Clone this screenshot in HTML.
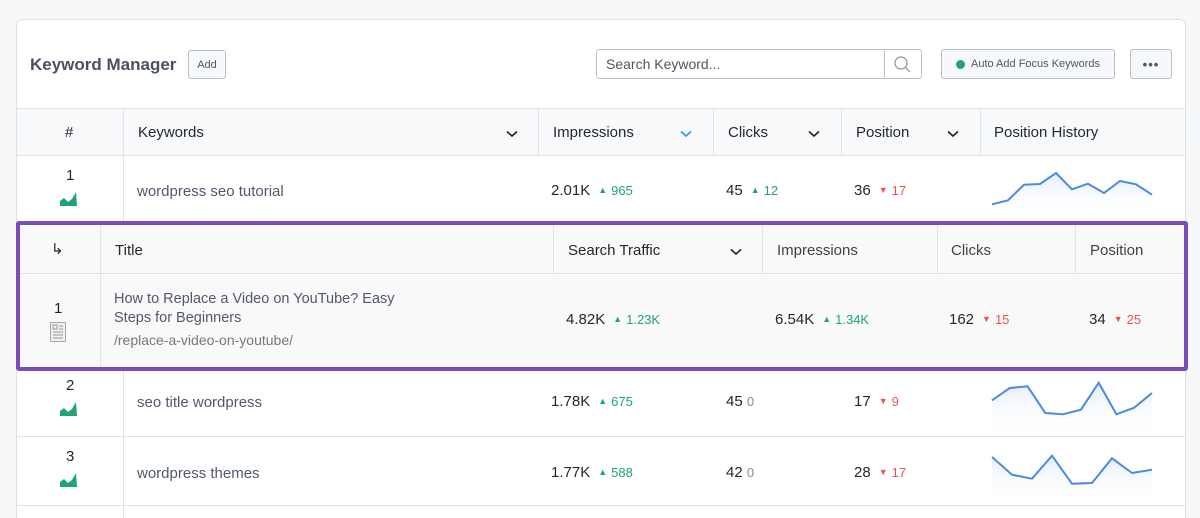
<!DOCTYPE html>
<html><head><meta charset="utf-8">
<style>
*{box-sizing:border-box;margin:0;padding:0}
html,body{width:1200px;height:518px;overflow:hidden}
body{background:#f6f7f9;font-family:"Liberation Sans",sans-serif;position:relative;color:#23282d}
.abs{position:absolute}
.card{left:16px;top:19px;width:1170px;height:520px;background:#fff;border:1px solid #dde0e5;border-radius:6px}
.btn{border:1px solid #b6bfcc;border-radius:3px;background:#f7f8fa;color:#50575e;font-size:11px;display:flex;align-items:center;justify-content:center}
.hd{background:#f8f9fa;border-bottom:1px solid #dfe2e6;border-top:1px solid #dfe2e6}
.vl{width:1px;background:#dfe2e6}
.hl{height:1px;background:#dfe2e6}
.t{font-size:15px;white-space:nowrap}
.g{color:#1fa47a;font-size:13px}
.r{color:#ef5350;font-size:13px}
.tri{font-size:9px;vertical-align:2px;margin:0 4px 0 8px}
.m{color:#50596c}
</style></head><body>
<div class="abs card"></div>
<div class="abs t" style="left:30px;top:55px;font-size:17px;color:#4b5161;font-weight:bold">Keyword Manager</div>
<div class="abs btn" style="left:188px;top:50px;width:38px;height:29px">Add</div>
<div class="abs" style="left:596px;top:49px;width:326px;height:30px;border:1px solid #b6bfcc;border-radius:3px;background:#fff"></div>
<div class="abs t" style="left:606px;top:56px;font-size:14px;color:#50575e">Search Keyword...</div>
<div class="abs" style="left:884px;top:50px;width:1px;height:28px;background:#b6bfcc"></div>
<svg class="abs" style="left:893px;top:55px" width="18" height="18"><circle cx="8" cy="8" r="6" fill="none" stroke="#8a929c" stroke-width="1.2"/><line x1="12.5" y1="12.5" x2="17" y2="17" stroke="#8a929c" stroke-width="1.2"/></svg>
<div class="abs btn" style="left:941px;top:49px;width:174px;height:30px"><span style="display:inline-block;width:9px;height:9px;border-radius:50%;background:#1fa47a;margin-right:6px"></span>Auto Add Focus Keywords</div>
<div class="abs btn" style="left:1130px;top:49px;width:42px;height:30px;font-size:13px;letter-spacing:1px;font-weight:bold">•••</div>

<!-- main header -->
<div class="abs hd" style="left:17px;top:108px;width:1168px;height:48px"></div>
<div class="abs vl" style="left:123px;top:108px;height:410px"></div>
<div class="abs vl" style="left:538px;top:108px;height:48px"></div>
<div class="abs vl" style="left:713px;top:108px;height:48px"></div>
<div class="abs vl" style="left:841px;top:108px;height:48px"></div>
<div class="abs vl" style="left:980px;top:108px;height:48px"></div>
<div class="abs t" style="left:65px;top:124px">#</div>
<div class="abs t" style="left:138px;top:124px">Keywords</div>
<svg class="abs" style="left:506px;top:130px" width="12" height="8"><polyline points="1,1.5 6,6 11,1.5" fill="none" stroke="#222" stroke-width="1.6"/></svg>
<div class="abs t" style="left:553px;top:124px">Impressions</div>
<svg class="abs" style="left:680px;top:130px" width="12" height="8"><polyline points="1,1.5 6,6 11,1.5" fill="none" stroke="#1e9bea" stroke-width="1.6"/></svg>
<div class="abs t" style="left:728px;top:124px">Clicks</div>
<svg class="abs" style="left:808px;top:130px" width="12" height="8"><polyline points="1,1.5 6,6 11,1.5" fill="none" stroke="#222" stroke-width="1.6"/></svg>
<div class="abs t" style="left:856px;top:124px">Position</div>
<svg class="abs" style="left:947px;top:130px" width="12" height="8"><polyline points="1,1.5 6,6 11,1.5" fill="none" stroke="#222" stroke-width="1.6"/></svg>
<div class="abs t" style="left:994px;top:124px">Position History</div>

<!-- row1 -->
<div class="abs t" style="left:66px;top:167px">1</div>
<svg class="abs" style="left:60px;top:190px" width="18" height="16"><path d="M0 16 L0 11 L4 8 L8 12 L12 9 L16 2 L17 16Z" fill="#1fa47a"/></svg>
<div class="abs t m" style="left:137px;top:183px">wordpress seo tutorial</div>
<div class="abs t" style="left:551px;top:182px">2.01K<span class="g tri">▲</span><span class="g">965</span></div>
<div class="abs t" style="left:726px;top:182px">45<span class="g tri">▲</span><span class="g">12</span></div>
<div class="abs t" style="left:854px;top:182px">36<span class="r tri">▼</span><span class="r">17</span></div>

<!-- rows 2 & 3 -->
<div class="abs hl" style="left:17px;top:436px;width:1168px"></div>
<div class="abs hl" style="left:17px;top:505px;width:1168px"></div>
<div class="abs t" style="left:66px;top:377px">2</div>
<svg class="abs" style="left:60px;top:400px" width="18" height="16"><path d="M0 16 L0 11 L4 8 L8 12 L12 9 L16 2 L17 16Z" fill="#1fa47a"/></svg>
<div class="abs t m" style="left:137px;top:394px">seo title wordpress</div>
<div class="abs t" style="left:551px;top:393px">1.78K<span class="g tri">▲</span><span class="g">675</span></div>
<div class="abs t" style="left:726px;top:393px">45 <span style="color:#888;font-size:13px">0</span></div>
<div class="abs t" style="left:854px;top:393px">17<span class="r tri">▼</span><span class="r">9</span></div>
<div class="abs t" style="left:66px;top:448px">3</div>
<svg class="abs" style="left:60px;top:471px" width="18" height="16"><path d="M0 16 L0 11 L4 8 L8 12 L12 9 L16 2 L17 16Z" fill="#1fa47a"/></svg>
<div class="abs t m" style="left:137px;top:465px">wordpress themes</div>
<div class="abs t" style="left:551px;top:464px">1.77K<span class="g tri">▲</span><span class="g">588</span></div>
<div class="abs t" style="left:726px;top:464px">42 <span style="color:#888;font-size:13px">0</span></div>
<div class="abs t" style="left:854px;top:464px">28<span class="r tri">▼</span><span class="r">17</span></div>

<svg id="spark" class="abs" style="left:0;top:0" width="1200" height="518">
<defs><linearGradient id="gf" x1="0" y1="0" x2="0" y2="1"><stop offset="0" stop-color="#e4edfb"/><stop offset="1" stop-color="#ffffff" stop-opacity="0"/></linearGradient></defs>
</svg>

<!-- expanded sub table -->
<div class="abs" style="left:16px;top:221px;width:1172px;height:150px;border:4px solid #7a4bb9;border-radius:3px;background:#f9f9f9"></div>
<div class="abs hl" style="left:20px;top:273px;width:1164px"></div>
<div class="abs vl" style="left:100px;top:225px;height:142px"></div>
<div class="abs vl" style="left:553px;top:225px;height:48px"></div>
<div class="abs vl" style="left:762px;top:225px;height:48px"></div>
<div class="abs vl" style="left:937px;top:225px;height:48px"></div>
<div class="abs vl" style="left:1075px;top:225px;height:48px"></div>
<div class="abs t" style="left:51px;top:240px">↳</div>
<div class="abs t" style="left:115px;top:242px">Title</div>
<div class="abs t" style="left:568px;top:242px">Search Traffic</div>
<svg class="abs" style="left:730px;top:248px" width="12" height="8"><polyline points="1,1.5 6,6 11,1.5" fill="none" stroke="#222" stroke-width="1.6"/></svg>
<div class="abs t" style="left:777px;top:242px;color:#3c434a">Impressions</div>
<div class="abs t" style="left:951px;top:242px;color:#3c434a">Clicks</div>
<div class="abs t" style="left:1090px;top:242px;color:#3c434a">Position</div>
<div class="abs t" style="left:54px;top:300px">1</div>
<svg class="abs" style="left:50px;top:322px" width="16" height="20"><rect x="0.5" y="0.5" width="15" height="19" fill="#f0f0f0" stroke="#aaa"/><rect x="3" y="3" width="4" height="4" fill="none" stroke="#999"/><line x1="9" y1="4" x2="13" y2="4" stroke="#999"/><line x1="9" y1="7" x2="13" y2="7" stroke="#999"/><line x1="3" y1="10" x2="13" y2="10" stroke="#999"/><line x1="3" y1="13" x2="13" y2="13" stroke="#999"/><line x1="3" y1="16" x2="13" y2="16" stroke="#999"/></svg>
<div class="abs m" style="left:114px;top:290px;font-size:14.5px;line-height:19px;width:320px">How to Replace a Video on YouTube? Easy Steps for Beginners</div>
<div class="abs t" style="left:114px;top:332px;font-size:14px;color:#777">/replace-a-video-on-youtube/</div>
<div class="abs t" style="left:566px;top:311px">4.82K<span class="g tri">▲</span><span class="g">1.23K</span></div>
<div class="abs t" style="left:775px;top:311px">6.54K<span class="g tri">▲</span><span class="g">1.34K</span></div>
<div class="abs t" style="left:949px;top:311px">162<span class="r tri">▼</span><span class="r">15</span></div>
<div class="abs t" style="left:1089px;top:311px">34<span class="r tri">▼</span><span class="r">25</span></div>

<script>
const row1History = [38,50,97,99,132,83,100,72,108,98,67];
const row2History = [110,147,152,72,68,82,163,68,88,132];
const row3History = [138,85,73,142,58,60,134,90,100];
const baselines = [217,437,503];
const svg = document.getElementById('spark');
const NS = 'http://www.w3.org/2000/svg';
function xScale(i,n){return 992 + i*(160/(n-1));}
function yScale(v,base){return base - v/3;}
[row1History,row2History,row3History].forEach((vals,r)=>{
  const base=baselines[r];
  const pts=vals.map((v,i)=>xScale(i,vals.length).toFixed(1)+','+yScale(v,base).toFixed(1));
  const area=document.createElementNS(NS,'polygon');
  area.setAttribute('points',pts.join(' ')+' 1152,'+base+' 992,'+base);
  area.setAttribute('fill','url(#gf)');
  
  
  svg.appendChild(area);
  const line=document.createElementNS(NS,'polyline');
  line.setAttribute('points',pts.join(' '));
  line.setAttribute('fill','none');
  line.setAttribute('stroke','#4a8be0');
  line.setAttribute('stroke-width','2');
  
  
  svg.appendChild(line);
});
</script>
</body></html>
